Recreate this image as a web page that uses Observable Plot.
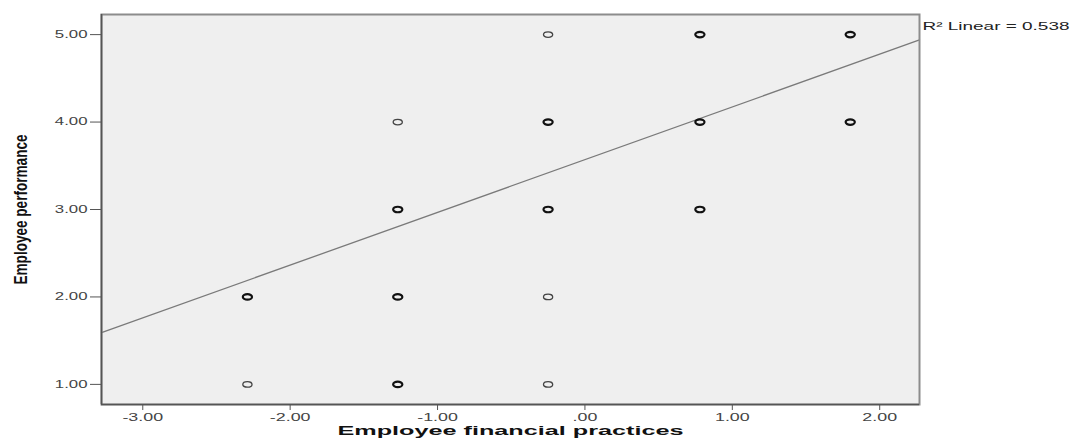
<!DOCTYPE html>
<html>
<head>
<meta charset="utf-8">
<script src="https://cdn.jsdelivr.net/npm/d3@7"></script>
<script src="https://cdn.jsdelivr.net/npm/@observablehq/plot@0.6"></script>
<style>
  html, body { margin: 0; padding: 0; background: #fff; }
</style>
</head>
<body>
<div id="chart"></div>
<script>
// Cases: standardized financial-practice score and performance rating.
const practices   = [-0.25, 0.78, 1.80, -1.27, -0.25, 0.78, 1.80, -1.27, -0.25, 0.78, -2.29, -1.27, -0.25, -2.29, -1.27, -0.25];
const performance = [5,     5,    5,    4,     4,     4,    4,    3,     3,     3,    2,     2,     2,     1,     1,     1];
// true where several cases share the same position
const repeated    = [false, true, true, false, true,  true, true, true,  true,  true, true,  true,  false, false, true,  false];

const xTicks = [-3, -2, -1, 0, 1, 2];
const yTicks = [1, 2, 3, 4, 5];
const xDomain = [-3.28, 2.27];
const yDomain = [0.77, 5.23];

// Linear fit of performance on financial practices
const fitIntercept = 3.57;
const fitSlope = 0.603;
const rSquared = 0.538;

const xTitle = "Employee financial practices";
const yTitle = "Employee performance";
const fitNote = `R² Linear = ${rSquared}`;

const cases = practices.map((x, i) => ({x, y: performance[i], repeated: repeated[i]}));
const fitLine = xDomain.map(x => ({x, y: fitIntercept + fitSlope * x}));

// SPSS-style tick text: 2 decimals, leading zero dropped, ASCII hyphen
const fmt = d => d.toFixed(2).replace(/^(-?)0\./, "$1.");

// flat elliptical ring used as the point marker
const ellipse = {
  draw(context, size) {
    const rx = Math.sqrt(size / Math.PI), ry = rx * 0.6, k = 0.5523;
    context.moveTo(rx, 0);
    context.bezierCurveTo(rx, ry * k, rx * k, ry, 0, ry);
    context.bezierCurveTo(-rx * k, ry, -rx, ry * k, -rx, 0);
    context.bezierCurveTo(-rx, -ry * k, -rx * k, -ry, 0, -ry);
    context.bezierCurveTo(rx * k, -ry, rx, -ry * k, rx, 0);
    context.closePath();
  }
};

const font = "'Liberation Sans', Arial, sans-serif";

const plot = Plot.plot({
  width: 1074,
  height: 445,
  marginLeft: 101,
  marginRight: 155,
  marginTop: 14,
  marginBottom: 41,
  style: {fontFamily: font, fontSize: "10.5px", background: "#fff"},
  x: {domain: xDomain, label: null},
  y: {domain: yDomain, label: null},
  marks: [
    Plot.frame({fill: "#efefef", stroke: "none"}),
    Plot.line(fitLine, {x: "x", y: "y", stroke: "#7a7a7a", strokeWidth: 1.3}),
    Plot.dot(cases.filter(d => !d.repeated), {
      x: "x", y: "y", r: 4.6, symbol: ellipse, fill: "none", stroke: "#444", strokeWidth: 1.3
    }),
    Plot.dot(cases.filter(d => d.repeated), {
      x: "x", y: "y", r: 4.6, symbol: ellipse, fill: "none", stroke: "#111", strokeWidth: 2.2
    }),
    Plot.frame({stroke: "#8c8c8c", strokeWidth: 2}),
    Plot.ruleX([xDomain[0]], {stroke: "#555", strokeWidth: 1.6}),
    Plot.ruleY([yDomain[0]], {stroke: "#555", strokeWidth: 1.6}),
    Plot.axisX({ticks: xTicks, tickFormat: fmt, tickSize: 6, tickPadding: 3, stroke: "#555", fill: "#444", label: null}),
    Plot.axisY({ticks: yTicks, tickFormat: fmt, tickSize: 11, tickPadding: 3, stroke: "#555", fill: "#444", label: null}),
    Plot.text([yTitle], {
      frameAnchor: "left", textAnchor: "middle", dx: -80, rotate: -90, fontFamily: font,
      fontWeight: "bold", fontSize: 18, fill: "#111"
    }),
    Plot.text([xTitle], {
      frameAnchor: "bottom", textAnchor: "middle", dy: 30, fontFamily: font,
      fontWeight: "bold", fontSize: 13, fill: "#111"
    }),
    Plot.text([fitNote], {
      frameAnchor: "top-right", textAnchor: "start", dx: 3, dy: 8, fontFamily: font,
      fontSize: 10.5, fill: "#222"
    })
  ]
});

document.getElementById("chart").append(plot);

// widen / narrow text runs to the letterforms of the original export
function fit(nodes, length) {
  nodes.forEach(node => {
    const w = node.getComputedTextLength();
    node.setAttribute("textLength", typeof length === "function" ? length(w) : length);
    node.setAttribute("lengthAdjust", "spacingAndGlyphs");
  });
}
const allText = [...plot.querySelectorAll("text")];
const byContent = s => allText.filter(n => n.textContent === s);
fit(plot.querySelectorAll('g[aria-label="x-axis tick label"] text'), w => w * 1.7);
fit(plot.querySelectorAll('g[aria-label="y-axis tick label"] text'), w => w * 1.6);
fit(byContent(yTitle), 150);
fit(byContent(xTitle), 346);
fit(byContent(fitNote), 147);
</script>
</body>
</html>
